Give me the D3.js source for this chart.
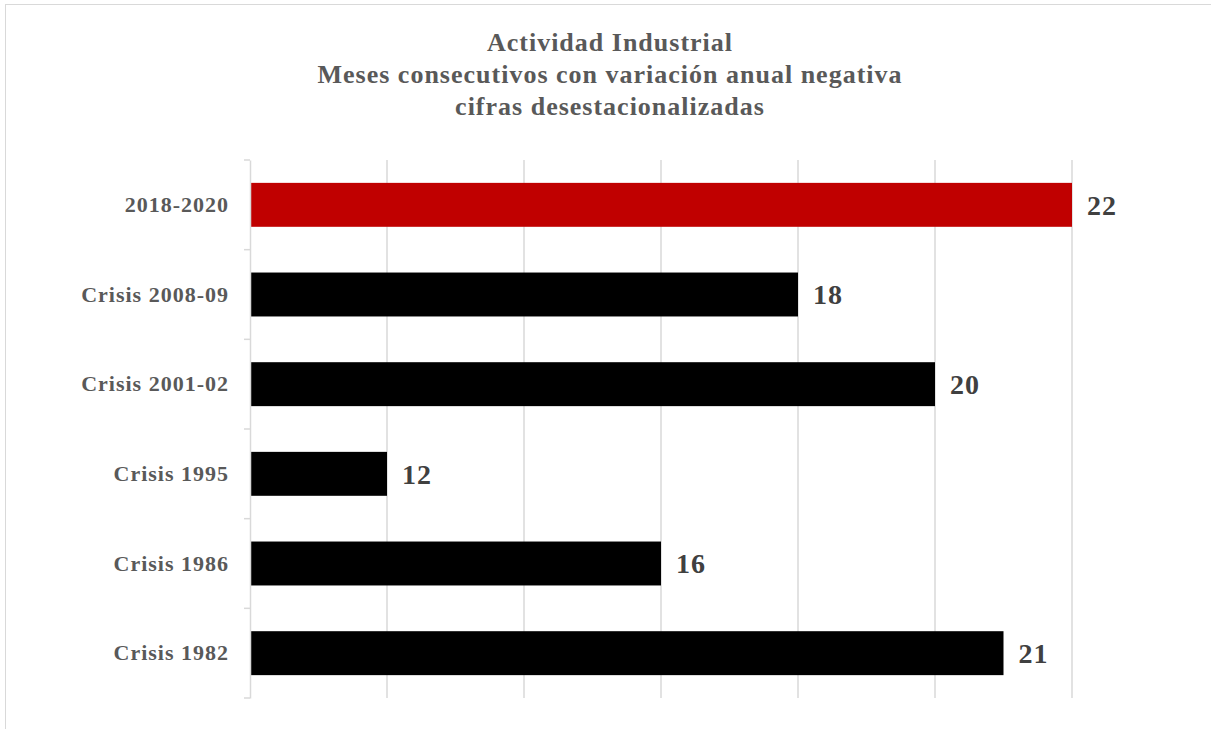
<!DOCTYPE html>
<html>
<head>
<meta charset="utf-8">
<script src="https://cdn.jsdelivr.net/npm/d3@7"></script>
<style>
  body { margin: 0; background: #fff; }
  svg { display: block; }
  text { font-family: "Liberation Serif", "DejaVu Serif", serif; font-weight: bold; }
</style>
</head>
<body>
<svg width="1211" height="729"></svg>
<script>
// data
var categories = ["2018-2020", "Crisis 2008-09", "Crisis 2001-02", "Crisis 1995", "Crisis 1986", "Crisis 1982"];
var months = [22, 18, 20, 12, 16, 21];
var barColors = ["#c00000", "#000000", "#000000", "#000000", "#000000", "#000000"];
var xTicks = [10, 12, 14, 16, 18, 20, 22];
var titleLines = ["Actividad Industrial", "Meses consecutivos con variación anual negativa", "cifras desestacionalizadas"];

var data = categories.map(function(c, i){
  return {name: c, value: months[i], color: barColors[i]};
});

var svg = d3.select("svg");

// chart frame (only top/left edges show inside the picture)
svg.append("rect")
  .attr("x", 5.5).attr("y", 4.5)
  .attr("width", 1300).attr("height", 800)
  .attr("fill", "#fff")
  .attr("stroke", "#d9d9d9");

var x = d3.scaleLinear().domain([10, 22]).range([250, 1072]);
var y = d3.scaleBand().domain(categories).range([160, 698])
  .paddingInner(0.51).paddingOuter(0.255);

// title
svg.append("text")
  .attr("x", 610).attr("y", 51)
  .attr("text-anchor", "middle")
  .attr("fill", "#595959")
  .style("font-size", "26px")
  .style("letter-spacing", "1px")
  .selectAll("tspan")
  .data(titleLines)
  .enter().append("tspan")
  .attr("x", 610)
  .attr("dy", function(d, i){ return i === 0 ? 0 : 32; })
  .text(function(d){ return d; });

// vertical gridlines
svg.append("g")
  .selectAll("line")
  .data(xTicks.slice(1))
  .enter().append("line")
  .attr("x1", function(d){ return x(d); })
  .attr("x2", function(d){ return x(d); })
  .attr("y1", 160).attr("y2", 698)
  .attr("stroke", "#d9d9d9")
  .attr("stroke-width", 1.5);

// bars
svg.append("g")
  .selectAll("rect")
  .data(data)
  .enter().append("rect")
  .attr("x", x(10))
  .attr("y", function(d){ return y(d.name); })
  .attr("width", function(d){ return x(d.value) - x(10); })
  .attr("height", y.bandwidth())
  .attr("fill", function(d){ return d.color; });

// left axis with ticks between categories
var yAxis = svg.append("g")
  .attr("transform", "translate(250,0)")
  .call(d3.axisLeft(y).tickSize(0).tickPadding(21));
yAxis.select(".domain").attr("stroke", "#d9d9d9").attr("stroke-width", 1.5);
yAxis.selectAll(".tick text")
  .attr("fill", "#595959")
  .style("font-size", "22px")
  .style("letter-spacing", "1px")
  .style("font-family", "'Liberation Serif', serif");

var bounds = categories.map(function(c){ return y(c) - y.step() * y.paddingInner() / 2; });
bounds.push(y(categories[categories.length - 1]) + y.bandwidth() + y.step() * y.paddingInner() / 2);
svg.append("g")
  .selectAll("line")
  .data(bounds)
  .enter().append("line")
  .attr("x1", 244).attr("x2", 250)
  .attr("y1", function(d){ return d; })
  .attr("y2", function(d){ return d; })
  .attr("stroke", "#d9d9d9")
  .attr("stroke-width", 1.5);

// value labels
svg.append("g")
  .selectAll("text")
  .data(data)
  .enter().append("text")
  .attr("x", function(d){ return x(d.value) + 15; })
  .attr("y", function(d){ return y(d.name) + y.bandwidth() / 2; })
  .attr("dy", "0.35em")
  .attr("fill", "#404040")
  .style("font-size", "28px")
  .style("letter-spacing", "1px")
  .text(function(d){ return d.value; });
</script>
</body>
</html>
